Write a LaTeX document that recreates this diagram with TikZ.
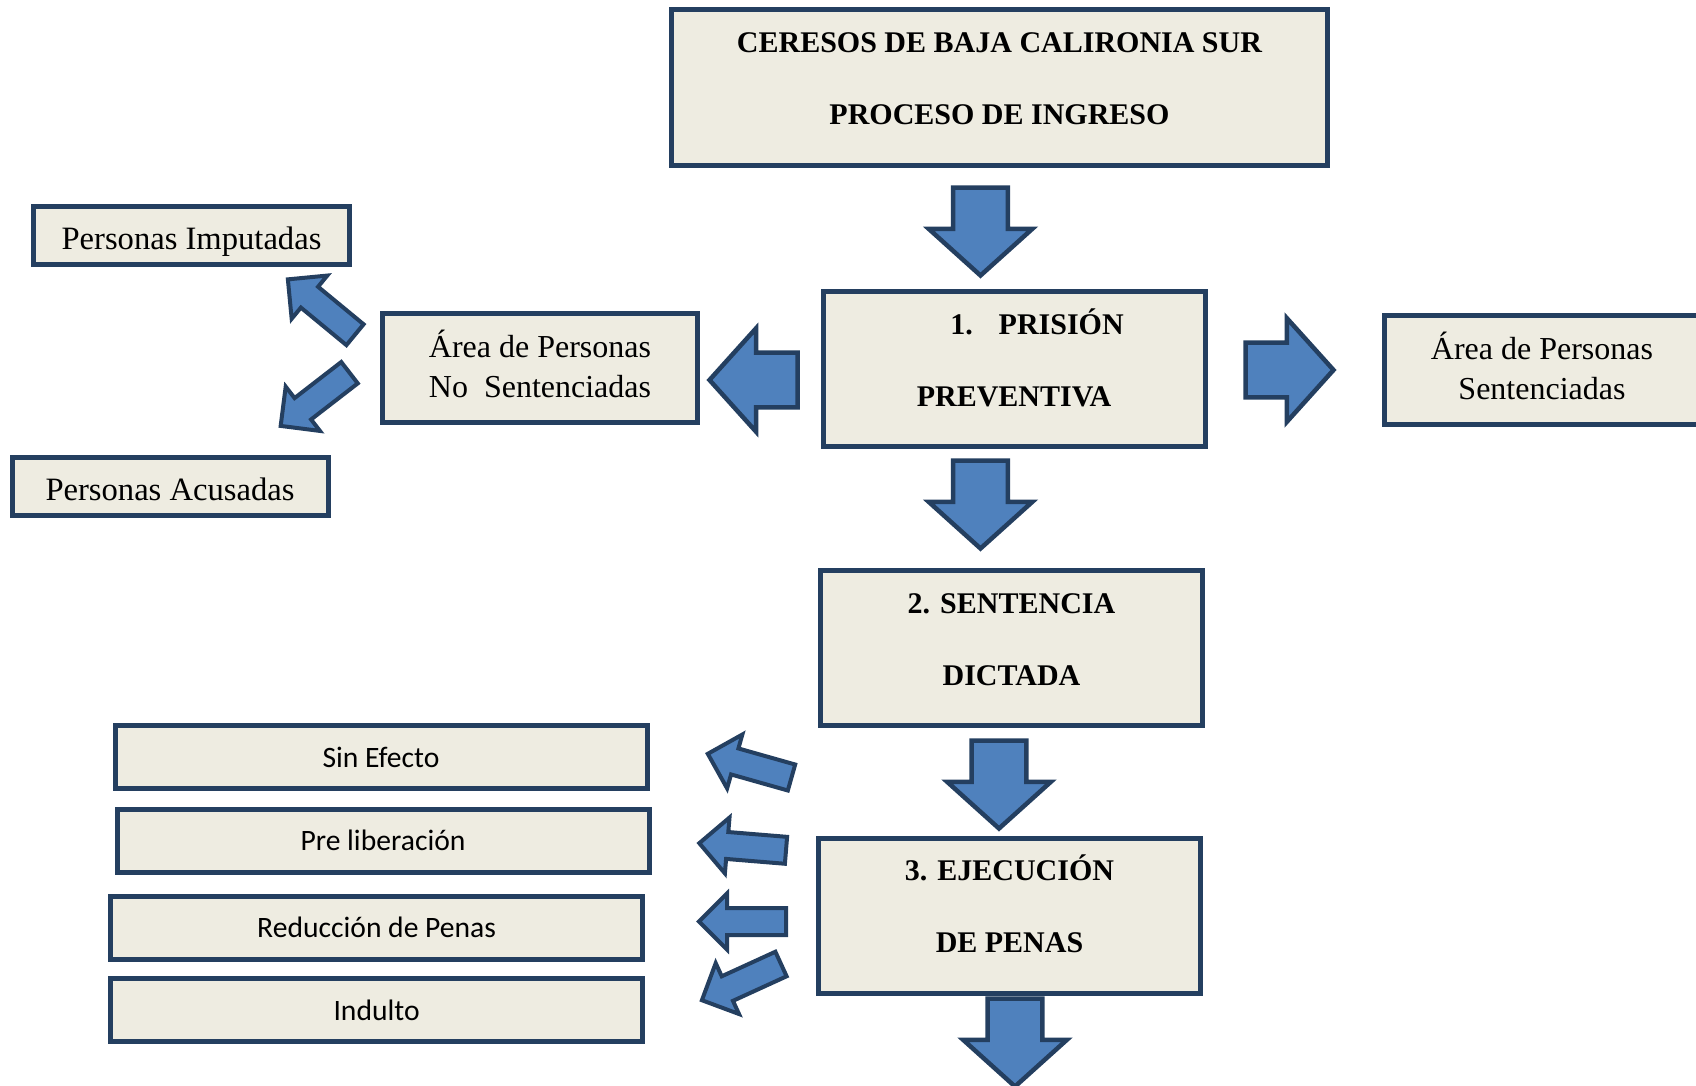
\documentclass[tikz,border=0pt]{standalone}
\usepackage{fontspec}
\setmainfont{Liberation Serif}
\newfontfamily\calibri{Carlito}
\usetikzlibrary{shapes.arrows}

\definecolor{boxfill}{RGB}{238,236,225}
\definecolor{boxline}{RGB}{36,63,96}
\definecolor{arrowfill}{RGB}{79,129,189}

\newcommand{\hiStrut}{\rule{0pt}{14pt}}
\newcommand{\lowStrut}[1]{\rule[-#1]{0pt}{#1}}

\tikzset{
	box/.style={draw=boxline, fill=boxfill, line width=2.5pt, inner sep=0pt, outer sep=0pt, align=center},
	stage/.style={box, minimum width=191pt, minimum height=77.5pt, font=\fontsize{15}{36}\selectfont\bfseries},
	area/.style={box, minimum width=157.5pt, minimum height=54.5pt, font=\fontsize{16}{20}\selectfont},
	person/.style={box, minimum width=158pt, minimum height=29pt, text height=17.5pt, text depth=3.5pt, font=\fontsize{16.3}{20}\selectfont},
	outcome/.style={box, minimum width=266pt, minimum height=31.5pt, font=\calibri\fontsize{14.8}{17}\selectfont},
	bigarrow/.style={single arrow, draw=boxline, fill=arrowfill, line width=2.25pt, inner xsep=0pt, inner ysep=12.6pt, outer sep=0pt, minimum width=49.5pt, minimum height=44pt, single arrow head extend=12.15pt, single arrow tip angle=96, anchor=tail},
	smallarrow/.style={single arrow, draw=boxline, fill=arrowfill, line width=2pt, inner xsep=0pt, inner ysep=5.75pt, outer sep=0pt, minimum width=26pt, minimum height=43.5pt, single arrow head extend=7.25pt, single arrow tip angle=90, anchor=tail}
}

\begin{document}
\begin{tikzpicture}[x=0.5pt,y=0.5pt,yscale=-1,xscale=1]
		\useasboundingbox (0,0) rectangle (1696,1086);
		
		%Shape: Rectangle [title]
		\node[stage, minimum width=328pt, minimum height=78pt] (title) at (999.5,87.5) {\hiStrut CERESOS DE BAJA CALIRONIA SUR\\PROCESO DE INGRESO\lowStrut{12.5pt}};
		%Shape: Rectangle [stages]
		\node[stage] (prision) at (1014,368.5) {\hiStrut\hspace*{23pt}1.\hspace{13pt}PRISIÓN\\PREVENTIVA\lowStrut{12.5pt}};
		\node[stage] (sentencia) at (1011.5,648) {\hiStrut 2. SENTENCIA\\DICTADA\lowStrut{12.5pt}};
		\node[stage] (ejecucion) at (1009.5,916) {\hiStrut 3. EJECUCIÓN\\DE PENAS\lowStrut{14pt}};
		
		%Shape: Rectangle [areas]
		\node[area] (areaNo) at (540,368) {Área de Personas\\No~ Sentenciadas\lowStrut{4.5pt}};
		\node[area] (areaSi) at (1542,370) {Área de Personas\\Sentenciadas\lowStrut{4.5pt}};
		\node[person] (imputadas) at (191.5,235.5) {Personas Imputadas};
		\node[person] (acusadas) at (170,486) {Personas Acusadas};
		
		%Shape: Rectangle [outcomes]
		\node[outcome] (sinEfecto) at (381,757) {Sin Efecto};
		\node[outcome] (preLib) at (383,840.5) {Pre liberación};
		\node[outcome] (reduccion) at (376.6,927.5) {Reducción de Penas};
		\node[outcome] (indulto) at (376.6,1010.3) {Indulto};
		
		%Shape: Right Arrow [main line]
		\node[bigarrow, rotate=-90] (toPrision) at (980.5,187.5) {};
		\node[bigarrow, rotate=-90] (toSentencia) at (980.5,460.5) {};
		\node[bigarrow, rotate=-90] (toEjecucion) at (999,740.5) {};
		\node[bigarrow, rotate=-90] (toNext) at (1015,998.5) {};
		\node[bigarrow, rotate=180] (toAreaNo) at (797.5,380) {};
		\node[bigarrow] (toAreaSi) at (1245.5,370) {};
		
		%Shape: Right Arrow [small]
		\node[smallarrow, rotate=140.5] (toImputadas) at (355,334.7) {};
		\node[smallarrow, rotate=217.7] (toAcusadas) at (349.5,372.7) {};
		\node[smallarrow, rotate=164.2] (toSinEfecto) at (791.5,777.5) {};
		\node[smallarrow, rotate=175.3] (toPreLib) at (786,850.3) {};
		\node[smallarrow, rotate=180] (toReduccion) at (786,921.5) {};
		\node[smallarrow, rotate=204.6] (toIndulto) at (781,964) {};
		
\end{tikzpicture}
\end{document}
